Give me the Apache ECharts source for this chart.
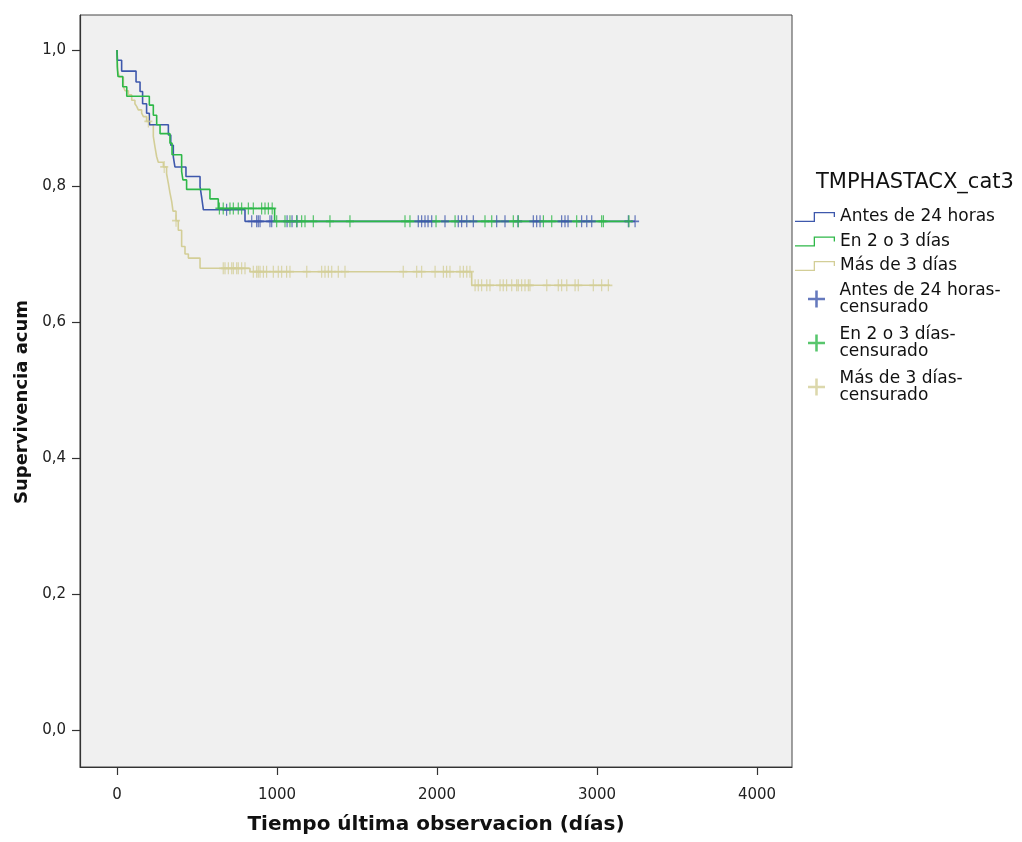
<!DOCTYPE html>
<html>
<head>
<meta charset="utf-8">
<script src="https://cdn.jsdelivr.net/npm/echarts@6/dist/echarts.min.js"></script>
<style>html,body{margin:0;padding:0;background:#fff}#c{width:1022px;height:842px}</style>
</head>
<body>
<div id="c"></div>
<script>
// ---- data ----
const groups = ['Antes de 24 horas', 'En 2 o 3 días', 'Más de 3 días'];
const censSuffix = '-censurado';
const xTicks = [0, 1000, 2000, 3000, 4000];
const yTicks = [0, 0.2, 0.4, 0.6, 0.8, 1.0];

const blueT = [0, 3, 29, 119, 144, 160, 185, 202, 321, 336, 352, 362, 431, 519, 530, 540, 800, 3238];
const blueS = [1.0, 0.985, 0.969, 0.953, 0.939, 0.921, 0.907, 0.890, 0.875, 0.860, 0.843, 0.828, 0.814, 0.799, 0.782, 0.765, 0.748, 0.748];

const greenT = [0, 2, 6, 36, 61, 202, 227, 248, 269, 331, 344, 404, 412, 435, 581, 633, 985, 3200];
const greenS = [1.0, 0.975, 0.961, 0.946, 0.932, 0.919, 0.904, 0.890, 0.877, 0.863, 0.846, 0.821, 0.809, 0.795, 0.781, 0.767, 0.748, 0.748];

const khakiT = [0, 2, 4, 15, 40, 50, 71, 92, 112, 123, 133, 154, 165, 185, 206, 227, 237, 248, 258, 290, 310, 321, 331, 342, 350, 369, 383, 404, 425, 446, 519, 831, 2217, 3080];
const khakiS = [1.0, 0.985, 0.970, 0.960, 0.946, 0.940, 0.934, 0.926, 0.921, 0.917, 0.912, 0.907, 0.902, 0.895, 0.890, 0.873, 0.858, 0.843, 0.835, 0.828, 0.818, 0.804, 0.790, 0.777, 0.763, 0.749, 0.735, 0.711, 0.700, 0.694, 0.679, 0.674, 0.654, 0.654];

const blueCensT = [685, 842, 873, 883, 894, 956, 967, 1063, 1094, 1125, 1883, 1904, 1925, 1944, 1967, 2050, 2133, 2154, 2186, 2227, 2373, 2425, 2506, 2602, 2623, 2644, 2779, 2800, 2819, 2904, 2936, 2967, 3196, 3238];
const greenCensT = [640, 664, 706, 727, 758, 779, 821, 852, 904, 925, 946, 970, 998, 1050, 1081, 1123, 1154, 1175, 1227, 1331, 1456, 1800, 1831, 1994, 2113, 2300, 2342, 2477, 2508, 2665, 2717, 2873, 3029, 3040, 3200];
const khakiCensT = [196, 295, 369, 664, 675, 696, 717, 727, 748, 758, 779, 800, 852, 873, 883, 894, 915, 935, 977, 1008, 1029, 1060, 1081, 1186, 1279, 1300, 1321, 1342, 1383, 1425, 1789, 1873, 1904, 1988, 2040, 2060, 2081, 2144, 2165, 2186, 2206, 2238, 2258, 2279, 2311, 2331, 2394, 2414, 2435, 2467, 2498, 2508, 2529, 2550, 2571, 2581, 2686, 2758, 2779, 2811, 2863, 2883, 2977, 3029, 3071];

// ---- helpers ----
const colors = ['#3e58ac', '#2eb848', '#d3ce97'];
const FONT = '"DejaVu Sans", "Liberation Sans", sans-serif';
function pairs(T, S) { return T.map((t, i) => [t, S[i]]); }
function survAt(T, S, t) { let s = S[0]; for (let i = 0; i < T.length; i++) { if (T[i] <= t) s = S[i]; } return s; }
function cens(T, S, C) { return C.map(t => [t, survAt(T, S, t)]); }

const stepIcon = 'path://M0,8.7 L18.7,8.7 L18.7,0 L40,0 L40,5 L38.7,5 L38.7,1.3 L20,1.3 L20,10 L0,10 Z';
const plusIcon = 'path://M4.25,0 L5.75,0 L5.75,4.25 L10,4.25 L10,5.75 L5.75,5.75 L5.75,10 L4.25,10 L4.25,5.75 L0,5.75 L0,4.25 L4.25,4.25 Z';

const stepsT = [blueT, greenT, khakiT];
const stepsS = [blueS, greenS, khakiS];
const censT = [blueCensT, greenCensT, khakiCensT];

const series = [];
const lineZ = [3, 4, 2];
groups.forEach((g, i) => {
  series.push({
    name: g, type: 'line', step: 'end', showSymbol: false, symbol: 'none',
    data: pairs(stepsT[i], stepsS[i]), color: colors[i], z: lineZ[i],
    lineStyle: { color: colors[i], width: 1.6 }, animation: false, silent: true
  });
});
groups.forEach((g, i) => {
  series.push({
    name: g + censSuffix, type: 'scatter', symbol: plusIcon, symbolSize: [8, 12],
    data: cens(stepsT[i], stepsS[i], censT[i]), color: colors[i], z: lineZ[i] + 3,
    itemStyle: { color: colors[i] }, animation: false, silent: true
  });
});

const chart = echarts.init(document.getElementById('c'), null, { renderer: 'canvas' });
chart.setOption({
  backgroundColor: '#ffffff',
  animation: false,
  title: {
    text: 'TMPHASTACX_cat3', left: 811, top: 167,
    textStyle: { fontFamily: FONT, fontSize: 21, fontWeight: 'normal', color: '#111' }
  },
  legend: [
    {
      orient: 'vertical', left: 790, top: 202, itemWidth: 40, itemHeight: 10, itemGap: 4.5,
      selectedMode: false,
      data: groups.map((g, i) => ({ name: g, icon: stepIcon, itemStyle: { color: colors[i] } })),
      textStyle: { fontFamily: FONT, fontSize: 17, lineHeight: 20, color: '#111' }
    },
    {
      orient: 'vertical', left: 803, top: 277, itemWidth: 18, itemHeight: 17, itemGap: 10,
      selectedMode: false,
      data: groups.map((g, i) => ({ name: g + censSuffix, icon: plusIcon, itemStyle: { color: colors[i] } })),
      formatter: n => n.replace(censSuffix, '-\ncensurado'),
      textStyle: { fontFamily: FONT, fontSize: 17, lineHeight: 17, color: '#111', padding: [0, 0, 0, 9] }
    }
  ],
  grid: {
    left: 80, top: 15, width: 712, height: 752, show: true,
    backgroundColor: '#f0f0f0', borderColor: '#444', borderWidth: 1
  },
  xAxis: {
    type: 'value', min: -231.25, max: 4218.75,
    name: 'Tiempo última observacion (días)', nameLocation: 'middle', nameGap: 48,
    nameTextStyle: { fontFamily: FONT, fontSize: 20, fontWeight: 'bold', color: '#111' },
    axisLine: { show: true, onZero: false, lineStyle: { color: '#333', width: 1.2 } },
    axisTick: { show: true, customValues: xTicks, length: 8, inside: false, lineStyle: { color: '#333', width: 1.2 } },
    axisLabel: { customValues: xTicks, margin: 21, fontFamily: FONT, fontSize: 15, color: '#222', formatter: v => String(Math.round(v)) },
    splitLine: { show: false }
  },
  yAxis: {
    type: 'value', min: -37 / 680, max: 1 + 35 / 680,
    name: 'Supervivencia acum', nameLocation: 'middle', nameGap: 47,
    nameTextStyle: { fontFamily: FONT, fontSize: 18, fontWeight: 'bold', color: '#111', padding: [0, 22, 0, 0] },
    axisLine: { show: true, onZero: false, lineStyle: { color: '#333', width: 1.2 } },
    axisTick: { show: true, customValues: yTicks, length: 8, inside: false, lineStyle: { color: '#333', width: 1.2 } },
    axisLabel: {
      customValues: yTicks, margin: 14, fontFamily: FONT, fontSize: 15, color: '#222',
      formatter: v => v.toFixed(1).replace('.', ',')
    },
    splitLine: { show: false }
  },
  series: series
});
</script>
</body>
</html>
